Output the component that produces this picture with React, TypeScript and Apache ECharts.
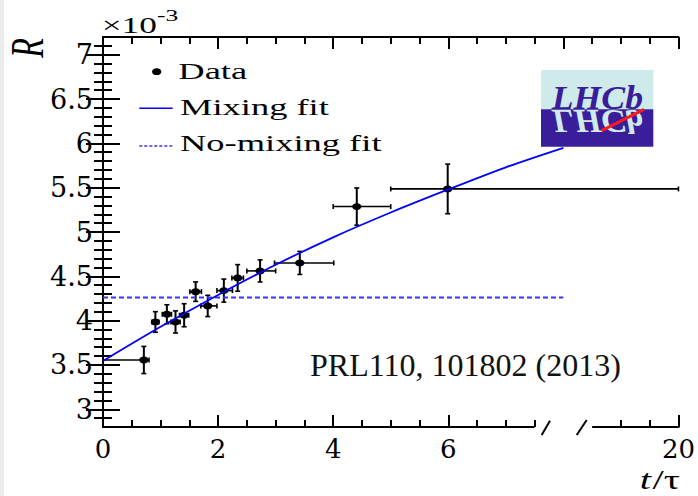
import React, { useEffect, useRef } from 'react';
import * as echarts from 'echarts';

// ---- data (t/tau, R in units of 1e-3) ----
const tCenter = [0.71, 0.91, 1.11, 1.26, 1.41, 1.61, 1.82, 2.1, 2.34, 2.73, 3.42, 4.41, 5.99];
const tLow = [0.0, 0.85, 1.03, 1.18, 1.33, 1.51, 1.7, 1.98, 2.24, 2.5, 2.98, 4.0, 5.0];
const tHigh = [0.8, 0.97, 1.19, 1.34, 1.49, 1.71, 1.98, 2.25, 2.44, 3.0, 4.01, 5.0, 20.0];
const rValue = [3.556, 3.985, 4.072, 3.985, 4.061, 4.327, 4.166, 4.339, 4.482, 4.561, 4.651, 5.287, 5.486];
const rError = [0.153, 0.116, 0.107, 0.125, 0.13, 0.11, 0.12, 0.13, 0.15, 0.125, 0.13, 0.21, 0.28];

const fitT = [0, 1, 2, 3, 4, 5, 6, 7, 8];
const mixingFit = [3.545, 3.93, 4.29, 4.63, 4.94, 5.22, 5.48, 5.73, 5.95];
const noMixingT = [0, 8];
const noMixingFit = [4.26, 4.26];

const yMajorTicks = [3, 3.5, 4, 4.5, 5, 5.5, 6, 6.5, 7];
const xLabelTicks = [0, 2, 4, 6, 20];
const xMajorTicks = [0, 2, 4, 6, 20];
const xMinorTicks = [0.5, 1, 1.5, 2.5, 3, 3.5, 4.5, 5, 5.5, 6.5, 7, 7.5, 19, 19.5];

// broken axis: real t <= 8 shown as is, t >= 18.5 shifted by 10
const axisX = (t: number) => (t <= 8 ? t : t - 10);
const realX = (v: number) => (v <= 8 ? v : v + 10);

const Y_MIN = 2.8;
const Y_MAX = 7.2;
const X_MIN = 0;
const X_MAX = 10;

const SERIF = '"Liberation Serif", "Times New Roman", serif';
const NUMFONT = '"DejaVu Serif", serif';

function yMinorTicks() {
  const out: number[] = [];
  for (let i = 29; i <= 71; i++) {
    if (i % 5 !== 0) out.push(i / 10);
  }
  return out;
}

export default function App() {
  const ref = useRef<HTMLDivElement>(null);
  useEffect(() => {
    if (!ref.current) return;
    const chart = echarts.init(ref.current, undefined, { renderer: 'svg' });
    const tickStyle = { color: '#000', width: 2 };
    const grid = { left: 103, right: 17, top: 37, bottom: 69 };

    const xBase = { type: 'value', min: X_MIN, max: X_MAX, splitLine: { show: false } };
    const yBase = { type: 'value', min: Y_MIN, max: Y_MAX, splitLine: { show: false } };

    const points = tCenter.map((t, i) => [
      axisX(t),
      rValue[i],
      axisX(tLow[i]),
      axisX(tHigh[i]),
      rValue[i] - rError[i],
      rValue[i] + rError[i],
    ]);

    chart.setOption({
      animation: false,
      backgroundColor: '#fff',
      grid,
      xAxis: [
        {
          ...xBase,
          position: 'bottom',
          axisLine: { show: false },
          axisTick: { show: true, inside: true, length: 12, lineStyle: tickStyle, customValues: xMajorTicks.map(axisX) },
          axisLabel: {
            show: true,
            customValues: xLabelTicks.map(axisX),
            formatter: (v: number) => String(realX(v)),
            fontFamily: NUMFONT,
            fontSize: 26,
            color: '#000',
            margin: 9,
          },
        },
        {
          ...xBase,
          position: 'bottom',
          axisLine: { show: false },
          axisTick: { show: true, inside: true, length: 7, lineStyle: tickStyle, customValues: xMinorTicks.map(axisX) },
          axisLabel: { show: false },
        },
        {
          ...xBase,
          position: 'top',
          axisLine: { show: true, lineStyle: { color: '#000', width: 2 } },
          axisTick: { show: true, inside: true, length: 12, lineStyle: tickStyle, customValues: [0, 2, 4, 6, 8, 10] },
          axisLabel: { show: false },
        },
        {
          ...xBase,
          position: 'top',
          axisLine: { show: false },
          axisTick: {
            show: true,
            inside: true,
            length: 7,
            lineStyle: tickStyle,
            customValues: [0.5, 1, 1.5, 2.5, 3, 3.5, 4.5, 5, 5.5, 6.5, 7, 7.5, 8.5, 9, 9.5],
          },
          axisLabel: { show: false },
        },
      ],
      yAxis: [
        {
          ...yBase,
          position: 'left',
          axisLine: { show: true, lineStyle: { color: '#000', width: 2 } },
          axisTick: { show: true, inside: true, length: 17, lineStyle: tickStyle, customValues: yMajorTicks },
          axisLabel: {
            show: true,
            customValues: yMajorTicks,
            formatter: (v: number) => String(v),
            fontFamily: NUMFONT,
            fontSize: 27,
            color: '#000',
            margin: 10,
          },
        },
        {
          ...yBase,
          position: 'left',
          axisLine: { show: false },
          axisTick: { show: true, inside: true, length: 9, lineStyle: tickStyle, customValues: yMinorTicks() },
          axisLabel: { show: false },
        },
        {
          ...yBase,
          position: 'right',
          axisLine: { show: true, lineStyle: { color: '#000', width: 2 } },
          axisTick: { show: true, inside: true, length: 17, lineStyle: tickStyle, customValues: yMajorTicks },
          axisLabel: { show: false },
        },
        {
          ...yBase,
          position: 'right',
          axisLine: { show: false },
          axisTick: { show: true, inside: true, length: 9, lineStyle: tickStyle, customValues: yMinorTicks() },
          axisLabel: { show: false },
        },
      ],
      series: [
        {
          name: 'No-mixing fit',
          type: 'line',
          xAxisIndex: 0,
          yAxisIndex: 0,
          data: noMixingT.map((t, i) => [axisX(t), noMixingFit[i]]),
          showSymbol: false,
          symbol: 'none',
          lineStyle: { color: '#3535ff', width: 2, type: [5, 3] },
          silent: true,
        },
        {
          name: 'Mixing fit',
          type: 'line',
          xAxisIndex: 0,
          yAxisIndex: 0,
          data: fitT.map((t, i) => [axisX(t), mixingFit[i]]),
          showSymbol: false,
          symbol: 'none',
          smooth: 0.3,
          lineStyle: { color: '#0000ff', width: 1.8 },
          silent: true,
        },
        {
          name: 'Data',
          type: 'custom',
          xAxisIndex: 0,
          yAxisIndex: 0,
          data: points,
          encode: { x: [0, 2, 3], y: [1, 4, 5] },
          clip: false,
          silent: true,
          renderItem: (params: any, api: any) => {
            const y = api.value(1);
            const x = api.value(0);
            const c = api.coord([x, y]);
            const l = api.coord([api.value(2), y]);
            const r = api.coord([api.value(3), y]);
            const lo = api.coord([x, api.value(4)]);
            const hi = api.coord([x, api.value(5)]);
            const cap = 2.5;
            const ls = { stroke: '#000', lineWidth: 1.6 };
            return {
              type: 'group',
              children: [
                { type: 'line', shape: { x1: l[0], y1: l[1], x2: r[0], y2: r[1] }, style: ls },
                { type: 'line', shape: { x1: l[0], y1: l[1] - cap, x2: l[0], y2: l[1] + cap }, style: ls },
                { type: 'line', shape: { x1: r[0], y1: r[1] - cap, x2: r[0], y2: r[1] + cap }, style: ls },
                { type: 'line', shape: { x1: lo[0], y1: lo[1], x2: hi[0], y2: hi[1] }, style: { stroke: '#000', lineWidth: 2 } },
                { type: 'line', shape: { x1: lo[0] - cap, y1: lo[1], x2: lo[0] + cap, y2: lo[1] }, style: ls },
                { type: 'line', shape: { x1: hi[0] - cap, y1: hi[1], x2: hi[0] + cap, y2: hi[1] }, style: ls },
                { type: 'ellipse', shape: { cx: c[0], cy: c[1], rx: 4.7, ry: 3.4 }, style: { fill: '#000' } },
              ],
            };
          },
        },
      ],
    });

    const px = (v: number) => chart.convertToPixel({ xAxisIndex: 0 }, v) as number;
    const py = (v: number) => chart.convertToPixel({ yAxisIndex: 0 }, v) as number;
    const yb = py(Y_MIN);
    const xs0 = px(0);
    const xs1 = px(7.5);
    const xs2 = px(8.5);
    const xs3 = px(10);

    const st = (size: number, extra: any = {}) => ({
      fontFamily: SERIF,
      fontSize: size,
      fill: '#000',
      align: 'left',
      verticalAlign: 'middle',
      ...extra,
    });

    chart.setOption({
      graphic: [
        { type: 'rect', shape: { x: 0, y: 0, width: 4, height: 496 }, style: { fill: '#ebebeb' }, silent: true },
        // broken x axis line
        { type: 'line', shape: { x1: xs0 - 1, y1: yb, x2: xs1, y2: yb }, style: { stroke: '#000', lineWidth: 2 } },
        { type: 'line', shape: { x1: xs2, y1: yb, x2: xs3 + 1, y2: yb }, style: { stroke: '#000', lineWidth: 2 } },
        { type: 'line', shape: { x1: 541.7, y1: 435, x2: 550, y2: 420.7 }, style: { stroke: '#000', lineWidth: 2 } },
        { type: 'line', shape: { x1: 576.7, y1: 435, x2: 586.7, y2: 420 }, style: { stroke: '#000', lineWidth: 2 } },
        // axis titles
        {
          type: 'text',
          x: 27.5,
          y: 48,
          rotation: Math.PI / 2,
          scaleY: 1.45,
          style: { text: 'R', fontFamily: SERIF, fontStyle: 'italic', fontSize: 32, fill: '#000', align: 'center', verticalAlign: 'middle' },
        },
        {
          type: 'text',
          x: 680,
          y: 480,
          scaleX: 1.5,
          style: { text: '/τ', fontFamily: SERIF, fontSize: 27, fill: '#000', align: 'right', verticalAlign: 'middle' },
        },
        {
          type: 'text',
          x: 651,
          y: 480,
          scaleX: 1.5,
          style: { text: 't', fontFamily: SERIF, fontStyle: 'italic', fontSize: 27, fill: '#000', align: 'right', verticalAlign: 'middle' },
        },
        { type: 'text', x: 101.7, y: 25.3, scaleX: 1.47, style: st(24, { text: '×10' }) },
        { type: 'text', x: 157, y: 16, scaleX: 1.5, style: st(17, { text: '-3' }) },
        // legend
        { type: 'ellipse', shape: { cx: 156.7, cy: 71.7, rx: 4.7, ry: 3.4 }, style: { fill: '#000' } },
        { type: 'text', x: 178.3, y: 71.3, scaleX: 1.52, style: st(24, { text: 'Data' }) },
        { type: 'line', shape: { x1: 139.3, y1: 108.3, x2: 172.7, y2: 108.3 }, style: { stroke: '#0000ff', lineWidth: 1.6 } },
        { type: 'text', x: 180, y: 106.7, scaleX: 1.52, style: st(24, { text: 'Mixing fit' }) },
        { type: 'line', shape: { x1: 139.3, y1: 146, x2: 172.7, y2: 146 }, style: { stroke: '#3535ff', lineWidth: 1.6, lineDash: [3, 2] } },
        { type: 'text', x: 180, y: 142.7, scaleX: 1.52, style: st(24, { text: 'No-mixing fit' }) },
        // reference
        { type: 'text', x: 310, y: 364.5, style: st(32, { text: 'PRL110, 101802 (2013)', fill: '#111' }) },
        // LHCb logo
        { type: 'rect', shape: { x: 541, y: 70, width: 112.3, height: 39.3 }, style: { fill: '#cfeaeb' } },
        { type: 'rect', shape: { x: 541, y: 109.3, width: 112.3, height: 37.4 }, style: { fill: '#3a1d9a' } },
        {
          type: 'group',
          x: 597.4,
          y: 109.3,
          children: [
            {
              type: 'text',
              x: 0,
              y: -11.5,
              scaleX: 1.05,
              style: { text: 'LHCb', fontFamily: SERIF, fontStyle: 'italic', fontWeight: 'bold', fontSize: 34, fill: '#3a1d9a', align: 'center', verticalAlign: 'middle' },
            },
          ],
        },
        {
          type: 'group',
          x: 597.4,
          y: 109.3,
          scaleY: -1,
          children: [
            {
              type: 'text',
              x: 0,
              y: -11.5,
              scaleX: 1.05,
              style: { text: 'LHCb', fontFamily: SERIF, fontStyle: 'italic', fontWeight: 'bold', fontSize: 34, fill: '#cfeaeb', align: 'center', verticalAlign: 'middle' },
            },
          ],
        },
        { type: 'line', shape: { x1: 601.7, y1: 130.7, x2: 644, y2: 109.3 }, style: { stroke: '#ff1a1a', lineWidth: 3 } },
      ],
    });

    return () => chart.dispose();
  }, []);

  return (
    <div
      ref={ref}
      style={{ position: 'fixed', left: 0, top: 0, width: 698, height: 496, background: '#fff' }}
    />
  );
}
